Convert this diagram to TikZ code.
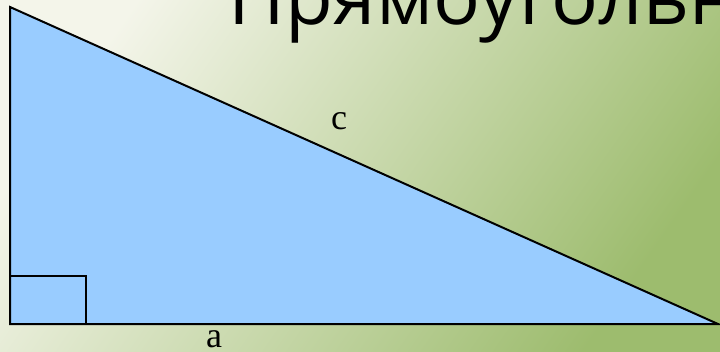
\documentclass[tikz,border=0pt]{standalone}
\usepackage{fontspec}
\setmainfont{Liberation Serif}
\newfontfamily\titlefont{Open Sans}
\usetikzlibrary{positioning,calc}
\definecolor{bgLight}{HTML}{F4F5EA}
\definecolor{bgGreen}{HTML}{9DBC6E}
\definecolor{triFill}{HTML}{99CCFF}

\begin{document}
\begin{tikzpicture}[x=1pt,y=-1pt]
    \tikzset{
      tside/.style={draw=black, line width=2pt, line join=miter},
      tlabel/.style={font=\fontsize{36}{36}\selectfont, inner sep=0pt},
      ttitle/.style={font=\titlefont\fontsize{78}{78}\selectfont, inner sep=0pt, anchor=base west}
    }

    % Background
    \clip (0,0) rectangle (720,351);
    \shade[top color=bgLight, bottom color=bgGreen, shading angle=55] (0,0) rectangle (720,351);

    % Title (cut off by the page edge)
    \node[ttitle] (title) at (228,24) {Прямоугольный треугольник};

    % Triangle
    \coordinate (B) at (10,7);
    \coordinate (C) at (10,324);
    \coordinate (A) at (718,324);
    \draw[tside, fill=triFill] (B) -- (C) -- (A) -- cycle;

    % Right angle mark
    \draw[tside] (10,276) rectangle (86,324);

    % Labels
    \node[tlabel] (labc) at (339,121) {c};
    \node[tlabel, anchor=base] (laba) at (214,347) {a};
  \end{tikzpicture}
\end{document}
